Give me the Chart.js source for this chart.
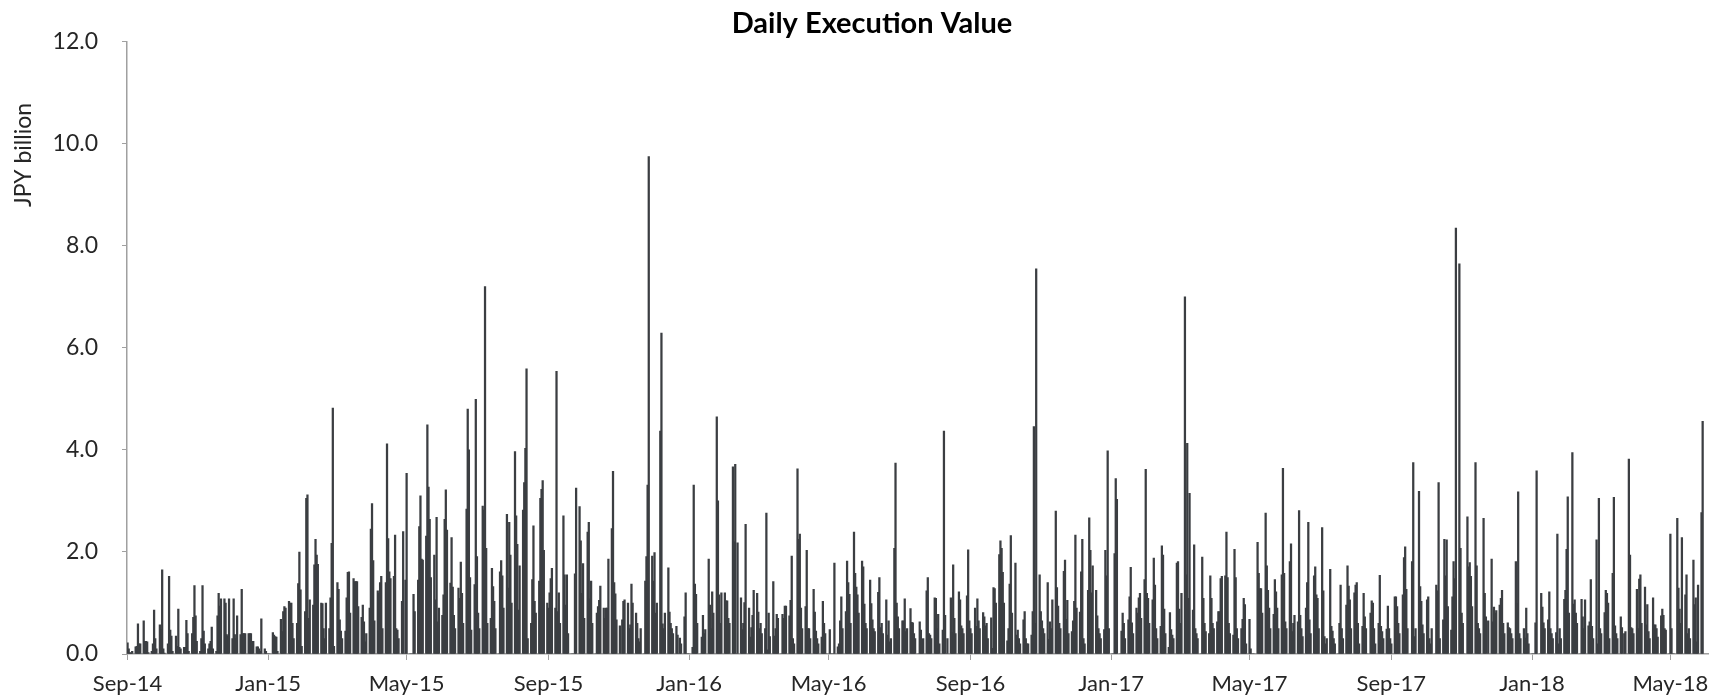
<!DOCTYPE html>
<html>
<head>
<meta charset="utf-8">
<title>Daily Execution Value</title>
<script src="https://cdn.jsdelivr.net/npm/chart.js@4.4.1/dist/chart.umd.min.js"></script>
<style>
  html, body { margin: 0; padding: 0; background: #fff; }
  #wrap { width: 1709px; height: 699px; position: relative; }
</style>
</head>
<body>
<div id="wrap"><canvas id="chart"></canvas></div>
<script>
// Daily execution value, JPY billion. Values run Mon-Fri from each start date; 0 = market holiday.
const startDates = ['2014-09-01', '2015-01-05', '2016-01-04', '2017-01-02', '2018-01-01'];

const v2014 = [
  0.22,0.1,0.03,0.02,0.05, 0.14,0.15,0.59,0.2,0.2, 0.65,0.25,0.25,0.24,0.03, 0.05,0.2,0.86,0.3,0.1,
  0.57,0.48,1.65,0.1,0.02, 0.2,1.52,0.47,0.35,0.05, 0.35,0.15,0.88,0.13,0.1, 0.13,0.13,0.66,0.4,0.05,
  0.4,0.72,1.34,0.75,0.25, 0.05,0.3,1.34,0.45,0.2, 0.1,0.2,0.25,0.53,0.1, 0.05,0.75,1.19,0.94,1.08,
  1.08,1.0,0.38,0.35,1.08, 0.3,1.08,0.38,0.3,0.75, 0.38,1.27,0.4,0.4,0.4, 0.4,0.4,0.4,0.25,0.25,
  0.14,0.14,0.1,0.05,0.69, 0.1,0.05,0,0,0
];
const v2015 = [
  0.42,0.37,0.34,0.33,0.05, 0.68,0.44,0.83,0.93,0.9, 1.03,1.0,1.0,0.6,0.3, 0.6,1.38,2.0,1.26,0.15,
  0.83,3.05,3.12,0.7,1.06, 0.96,1.75,2.25,1.94,1.76, 1.0,0.99,0.5,0.3,1.0, 0.5,1.1,2.17,4.82,0.15,
  1.4,1.27,0.67,0.45,0.3, 0.45,1.1,1.6,1.61,0.8, 1.48,1.42,1.42,1.42,0.93, 0.72,0.96,0.63,0.24,0.4,
  0.9,2.45,2.95,1.83,0.65, 1.24,1.19,1.4,1.52,0.5, 1.4,4.12,2.26,1.61,1.48, 1.52,2.33,0.5,0.47,0.3,
  1.03,2.4,0,1.45,3.54, 0,0,0,1.17,0.83, 1.45,2.5,3.1,1.86,1.84, 2.31,4.49,3.27,2.64,1.5,
  1.94,1.06,2.68,0.63,0.9, 0.76,1.16,2.64,3.22,2.43, 1.39,2.28,1.31,0.76,0.5, 1.29,1.09,1.8,1.19,0.6,
  2.84,4.8,4.0,1.5,0.47, 1.36,4.99,1.91,0.8,0.5, 2.9,2.82,7.2,2.07,0.6, 0.7,1.68,1.32,1.03,0.5,
  0,1.61,1.83,1.53,0.9, 2.74,1.29,2.58,1.94,1.0, 3.97,2.71,2.15,0.86,1.73, 2.82,3.36,4.03,5.59,0.3,
  0.6,1.46,2.51,1.03,0.8, 1.43,3.05,3.23,3.4,2.03, 1.0,0.9,1.2,1.48,1.68, 0.9,5.54,0.83,1.2,0.6,
  2.71,1.55,0.96,1.55,0.4, 0,0,0,1.57,3.25, 2.89,2.22,1.19,1.77,0.7, 2.39,2.58,1.08,1.43,0.6,
  0,0.8,0.93,1.05,1.33, 0.9,0.7,0.9,0.9,1.86, 2.46,3.58,1.4,1.18,0.67, 0.55,0,0.67,1.03,1.06,
  1.0,0.5,0.57,1.37,1.0, 0.8,0.6,0.3,0.24,0.5, 0,1.43,1.91,3.31,9.75, 1.92,1.43,1.99,0.8,1.0,
  4.37,6.29,0.59,0.5,0.8, 1.69,0.82,0.6,0.5,0.4, 0.54,0.37,0,0.31,0.2, 0.73,1.2,0,0,0
];
const v2016 = [
  0.13,3.31,1.37,1.17,0.6, 0,0.33,0.76,0.4,0.48, 1.86,0.96,0.5,1.22,0.8, 4.65,3.0,1.16,0.6,1.2,
  1.2,1.04,1.04,0.7,0.6, 3.67,2.2,3.72,0,2.18, 1.1,0.48,0.6,1.01,2.54, 0.9,0.33,0.52,0.76,1.25,
  1.19,0.82,0.5,0.6,0.4, 0.5,2.76,0.08,0.8,0.34, 1.42,0.35,0.5,0.78,0.7, 0,0.78,0.7,0.94,0.94,
  0.75,1.05,1.92,0.3,0.2, 3.63,2.25,2.35,0.9,0.5, 0.93,2.03,0.5,0.5,0.3, 1.27,0.82,0.45,0.3,0.2,
  0.33,1.03,0.6,0.4,0, 0.48,0,0,0,1.78, 0.14,0.2,0.65,1.12,0.5, 0.83,1.82,1.4,1.17,0.6,
  2.39,1.58,1.31,1.16,0.8, 1.82,1.71,0.98,0.6,0.5, 1.45,0.99,0.67,0.5,0.44, 1.21,1.5,0.52,0.6,0.4,
  1.06,0.37,0.65,0.24,0.3, 2.07,3.74,1.0,0.73,0.5, 0.65,0.65,1.08,0.44,0.5, 0.89,0.62,0.61,0.4,0.3,
  0,0.63,0.47,0.29,0.3, 1.24,1.5,0.4,0.37,0.3, 1.1,1.09,0.5,0.78,0.2, 0.47,4.37,0.76,0,0.3,
  1.1,0.42,1.75,0.7,0.4, 1.22,1.06,0.55,0.5,0.4, 1.14,2.04,0.65,0.5,0.4, 0.9,0.54,1.08,0.65,0.5,
  0.81,0.73,0.55,0.6,0.3, 0.71,0.11,1.3,1.28,1.0, 1.95,2.22,2.07,1.6,1.0, 0.26,0.5,1.37,2.32,0.8,
  1.78,0.37,0.47,0.3,0.2, 0.67,0.83,0.3,0.2,0.2, 0.37,0.83,4.46,0.6,7.55, 1.55,0.83,0.65,0.5,0.4,
  1.4,0.29,0.63,0.5,1.06, 2.8,1.3,0.94,0.6,0.5, 1.62,1.84,0.68,1.05,0.4, 0.44,0.65,1.03,2.33,0.9,
  0.82,1.61,2.25,0.3,0.2, 1.25,2.67,2.03,1.2,1.73, 1.25,0.75,0.5,0.4,0.3, 0.48,2.03,1.53,3.98,0.5
];
const v2017 = [
  0,0,1.97,3.44,3.03, 0,0.45,0.8,0.6,0.3, 0.67,1.12,1.7,0.61,0.4, 0.9,0.8,1.1,1.19,0.7,
  1.46,3.62,1.19,1.09,0.6, 1.06,1.88,1.35,0.5,0.3, 0.54,2.12,1.94,0.88,0.4, 0.13,0.81,0.48,0.37,0.3,
  1.78,1.81,0.88,0.6,1.19, 7.0,1.55,4.13,1.09,3.15, 0.86,2.14,0.5,0.4,0.3, 0,1.9,1.09,0.6,0.44,
  0.4,1.53,1.09,0.6,0.5, 0.63,0.83,0.83,1.48,1.52, 1.53,2.39,1.5,0.6,0.4, 0.37,2.05,1.5,0.5,0.3,
  0.5,0.68,1.09,0.97,0.2, 0.68,0.1,0,0,0, 2.19,1.58,1.28,1.28,0.8, 2.76,1.73,1.25,0.9,0.5,
  0.78,1.46,1.22,0.9,0.5, 1.55,3.64,1.58,0.63,0.5, 1.81,2.16,0.44,0.6,0.76, 0.63,2.81,0.76,0.5,0.34,
  0.9,1.4,2.58,0.67,0.4, 1.53,1.71,1.16,1.09,0.5, 2.48,1.24,0.34,0.2,0.3, 1.66,0.54,0.45,0.3,0.2,
  0,0.6,1.35,0.5,0.3, 0.96,1.73,1.33,1.06,0.5, 1.2,1.35,1.4,0.6,0.2, 0.54,1.19,0.73,0.5,0,
  0.8,1.04,1.0,0.5,0.2, 0.6,1.54,0.54,0.44,0.3, 0.49,0.94,0.5,0.3,0.2, 1.12,1.12,0.93,0.6,0.4,
  1.16,1.89,2.1,1.27,0.5, 0,1.81,3.75,0.34,0.5, 3.19,1.32,1.03,0.57,0.4, 1.06,1.12,0.3,0.2,0.5,
  0,1.35,1.24,3.36,0.3, 0.67,2.25,1.53,2.24,0.93, 0.47,1.12,1.81,1.48,8.35, 7.65,2.07,0.8,0.6,0,
  2.69,1.71,1.79,1.52,0.93, 3.75,1.73,0.6,0.5,0.4, 2.66,1.19,0.73,0,0.65, 1.86,0.63,0.92,0.8,0.85,
  0.96,1.09,1.25,0.6,0.4, 0.61,0.52,0.5,0.4,0.3, 1.81,0.99,3.18,0.4,0.3, 0.5,0.31,0.9,0.4,0.2
];
const v2018 = [
  0,0,0,0.61,3.59, 0,1.19,0.92,0.61,0.5, 0.67,1.22,0.5,0.4,0.3, 0.42,2.35,0.2,0.5,0.3,
  1.07,1.25,2.05,3.08,0.8, 3.95,0.98,1.06,0.8,0.6, 0,1.07,0.73,0.5,1.06, 0.55,0.63,1.46,0.54,0.3,
  2.24,0.2,3.05,0.5,0.4, 0.81,1.25,1.19,1.0,0.3, 1.58,3.07,0.55,0.4,0.3, 0.73,0.52,0,0.4,0.44,
  3.82,1.94,0.52,0.5,0.4, 1.27,0.5,1.47,1.55,0.6, 1.31,0.57,0.97,0.44,0.3, 1.1,0.57,0.57,0.5,0.33,
  0.75,0.88,0.76,0.5,0.47, 0,2.35,0.5,0,0, 2.66,1.29,0.88,0.6,2.28, 1.16,1.55,0.4,0.5,0.3,
  1.84,0.97,1.1,0.24,1.35, 2.77,4.56
];

const axisStart = '2014-09-01';
const axisEnd = '2018-06-03';
const xTickLabels = ['Sep-14','Jan-15','May-15','Sep-15','Jan-16','May-16','Sep-16','Jan-17','May-17','Sep-17','Jan-18','May-18'];
const yMin = 0, yMax = 12, yStep = 2;

const monthNames = ['Jan','Feb','Mar','Apr','May','Jun','Jul','Aug','Sep','Oct','Nov','Dec'];
const iso = d => d.toISOString().slice(0, 10);
const fmtMonth = s => {
  const d = new Date(s + 'T00:00:00Z');
  return monthNames[d.getUTCMonth()] + '-' + String(d.getUTCFullYear()).slice(2);
};

// map trading-day values onto calendar dates
const byDate = {};
[v2014, v2015, v2016, v2017, v2018].forEach((vals, si) => {
  const d = new Date(startDates[si] + 'T00:00:00Z');
  let i = 0;
  while (i < vals.length) {
    const wd = d.getUTCDay();
    if (wd !== 0 && wd !== 6) { byDate[iso(d)] = vals[i]; i++; }
    d.setUTCDate(d.getUTCDate() + 1);
  }
});

const labels = [], values = [];
for (let d = new Date(axisStart + 'T00:00:00Z'); iso(d) <= axisEnd; d.setUTCDate(d.getUTCDate() + 1)) {
  const k = iso(d);
  labels.push(k);
  values.push(k in byDate ? byDate[k] : null);
}

const FONT = 'Lato';
const axisGrey = '#a0a0a0';
const textColor = '#262626';

const yTitle = {
  id: 'yTitle',
  afterDraw(chart) {
    const ctx = chart.ctx;
    ctx.save();
    ctx.translate(24, 155);
    ctx.rotate(-Math.PI / 2);
    ctx.font = '23px ' + FONT;
    ctx.fillStyle = textColor;
    ctx.textAlign = 'center';
    ctx.textBaseline = 'middle';
    ctx.fillText('JPY billion', 0, 0);
    ctx.restore();
  }
};

new Chart(document.getElementById('chart'), {
  type: 'bar',
  data: {
    labels: labels,
    datasets: [{
      data: values,
      backgroundColor: '#3b3e42',
      borderWidth: 0,
      barThickness: 1.6
    }]
  },
  options: {
    responsive: true,
    maintainAspectRatio: false,
    animation: false,
    layout: { padding: { left: 35, right: 0, top: 0, bottom: 0 } },
    plugins: {
      legend: { display: false },
      tooltip: { enabled: false },
      title: {
        display: true,
        text: 'Daily Execution Value',
        color: '#000',
        font: { family: FONT, size: 29, weight: 'bold' },
        padding: { top: 6, bottom: 1 }
      }
    },
    scales: {
      x: {
        offset: true,
        grid: { display: true, drawOnChartArea: false, offset: false, tickLength: 6, color: axisGrey },
        border: { color: axisGrey, width: 1.5 },
        ticks: {
          autoSkip: false, maxRotation: 0, minRotation: 0,
          color: textColor, font: { family: FONT, size: 22 }, padding: 11,
          callback: function (v) { return fmtMonth(labels[v]); }
        },
        afterBuildTicks: s => {
          s.ticks = s.ticks.filter(t => labels[t.value].endsWith('-01') && xTickLabels.includes(fmtMonth(labels[t.value])));
        },
        afterFit: s => { s.height = 45; s.paddingLeft = 0; s.paddingRight = 0; }
      },
      y: {
        min: yMin, max: yMax,
        grid: { display: true, drawOnChartArea: false, tickLength: 5, color: axisGrey },
        border: { color: axisGrey, width: 1.5 },
        ticks: {
          stepSize: yStep, color: textColor, font: { family: FONT, size: 23 }, padding: 24,
          callback: v => v.toFixed(1)
        },
        afterFit: s => { s.width = 92; }
      }
    }
  },
  plugins: [yTitle]
});
</script>
</body>
</html>
